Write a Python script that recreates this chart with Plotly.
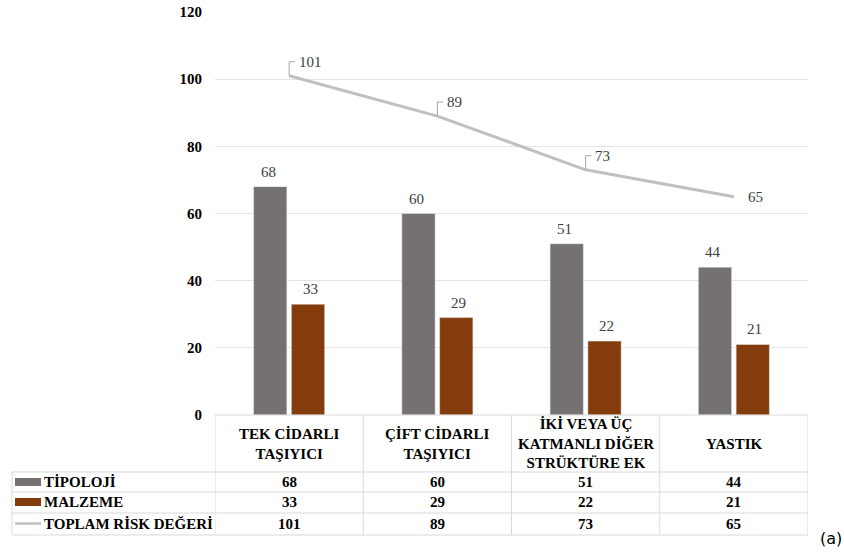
import plotly.graph_objects as go

categories = ["TEK CİDARLI<br>TAŞIYICI", "ÇİFT CİDARLI<br>TAŞIYICI", "İKİ VEYA ÜÇ<br>KATMANLI DİĞER<br>STRÜKTÜRE EK", "YASTIK"]
tipoloji = [68, 60, 51, 44]
malzeme = [33, 29, 22, 21]
toplam = [101, 89, 73, 65]
series_names = ["TİPOLOJİ", "MALZEME", "TOPLAM RİSK DEĞERİ"]
y_ticks = [0, 20, 40, 60, 80, 100, 120]

GRAY = "#767171"
BROWN = "#843C0C"
LINEC = "#C0C0C0"
LBL = "#404040"
SERIF = "Liberation Serif"

W, H = 844, 553
L, R, T, B = 215, 36, 12, 138
PH = H - T - B
PW = W - L - R

def py(p):  # pixel y -> paper y
    return (H - B - p) / PH

def px(p):  # pixel x -> paper x
    return (p - L) / PW

xs = list(range(len(categories)))
BAR_OFF = 21  # px offset of bar centres from category centre

fig = go.Figure()
fig.add_trace(go.Bar(x=xs, y=tipoloji, name=series_names[0], marker_color=GRAY))
fig.add_trace(go.Bar(x=xs, y=malzeme, name=series_names[1], marker_color=BROWN))
fig.add_trace(go.Scatter(x=xs, y=toplam, name=series_names[2], mode="lines",
                         line=dict(color=LINEC, width=3)))

annotations = []
shapes = []

# bar value labels
for vals, off in [(tipoloji, -BAR_OFF), (malzeme, BAR_OFF)]:
    for i, v in enumerate(vals):
        annotations.append(dict(x=i, y=v, xref="x", yref="y", text=str(v),
                                showarrow=False, xanchor="center", yanchor="middle",
                                xshift=off, yshift=15,
                                font=dict(family=SERIF, size=15, color=LBL)))

# line labels with leader brackets
for i, v in enumerate(toplam):
    if i < len(toplam) - 1:
        up = 4.2
        shapes.append(dict(type="path", xref="x", yref="y",
                           path=f"M {i},{v} L {i},{v+up} L {i+0.04},{v+up}",
                           line=dict(color="#A6A6A6", width=1)))
        annotations.append(dict(x=i + 0.05, y=v + up, xref="x", yref="y", text=str(v),
                                showarrow=False, xanchor="left", yanchor="middle",
                                font=dict(family=SERIF, size=15, color=LBL)))
    else:
        annotations.append(dict(x=i + 0.08, y=v, xref="x", yref="y", text=str(v),
                                showarrow=False, xanchor="left", yanchor="middle",
                                font=dict(family=SERIF, size=15, color=LBL)))

# category header row
for i, c in enumerate(categories):
    annotations.append(dict(x=i, y=py(444), xref="x", yref="paper", text=f"<b>{c}</b>",
                            showarrow=False, xanchor="center", yanchor="middle",
                            font=dict(family=SERIF, size=15, color="black")))

# data table rows
row_centers = [482, 502, 523.5]
rows = [tipoloji, malzeme, toplam]
for r, (vals, yc) in enumerate(zip(rows, row_centers)):
    annotations.append(dict(x=px(42), y=py(yc), xref="paper", yref="paper",
                            text=f"<b>{series_names[r]}</b>", showarrow=False,
                            xanchor="left", yanchor="middle",
                            font=dict(family=SERIF, size=15, color="black")))
    for i, v in enumerate(vals):
        annotations.append(dict(x=i, y=py(yc), xref="x", yref="paper", text=f"<b>{v}</b>",
                                showarrow=False, xanchor="center", yanchor="middle",
                                font=dict(family=SERIF, size=15, color="black")))

# legend keys in table
shapes.append(dict(type="rect", xref="paper", yref="paper", x0=px(15), x1=px(41),
                   y0=py(486), y1=py(478), fillcolor=GRAY, line=dict(width=0)))
shapes.append(dict(type="rect", xref="paper", yref="paper", x0=px(15), x1=px(41),
                   y0=py(506), y1=py(498), fillcolor=BROWN, line=dict(width=0)))
shapes.append(dict(type="line", xref="paper", yref="paper", x0=px(15), x1=px(41),
                   y0=py(523.5), y1=py(523.5), line=dict(color=LINEC, width=2.5)))

# table grid
TBL = "#D9D9D9"
for yl in [472, 492, 513, 535]:
    shapes.append(dict(type="line", xref="paper", yref="paper", x0=px(12), x1=1,
                       y0=py(yl), y1=py(yl), line=dict(color=TBL, width=1)))
shapes.append(dict(type="line", xref="paper", yref="paper", x0=0, x1=1,
                   y0=0, y1=0, line=dict(color=TBL, width=1)))
shapes.append(dict(type="line", xref="paper", yref="paper", x0=px(12), x1=px(12),
                   y0=py(472), y1=py(535), line=dict(color=TBL, width=1)))
for k in range(len(categories) + 1):
    shapes.append(dict(type="line", xref="x", yref="paper", x0=k - 0.5, x1=k - 0.5,
                       y0=0, y1=py(535), line=dict(color=TBL, width=1)))

annotations.append(dict(x=px(844), y=py(538), xref="paper", yref="paper", text="(a)",
                        showarrow=False, xanchor="right", yanchor="middle",
                        font=dict(family="DejaVu Sans", size=16, color="black")))

fig.update_layout(
    width=W, height=H,
    margin=dict(l=L, r=R, t=T, b=B, autoexpand=False),
    plot_bgcolor="white", paper_bgcolor="white",
    font=dict(family=SERIF),
    barmode="group", bargap=0.49, bargroupgap=0.12,
    showlegend=False,
    xaxis=dict(range=[-0.5, len(categories) - 0.5], showticklabels=False,
               showgrid=False, zeroline=False, showline=False, ticks="", automargin=False),
    yaxis=dict(range=[0, 120], tickvals=y_ticks, showgrid=True, gridcolor="#E4E4E4",
               zeroline=False, showline=False, ticklabelstandoff=12, automargin=False,
               tickfont=dict(family=SERIF, size=15, color="black", weight="bold")),
    annotations=annotations, shapes=shapes,
)

fig.write_html("out.html")
